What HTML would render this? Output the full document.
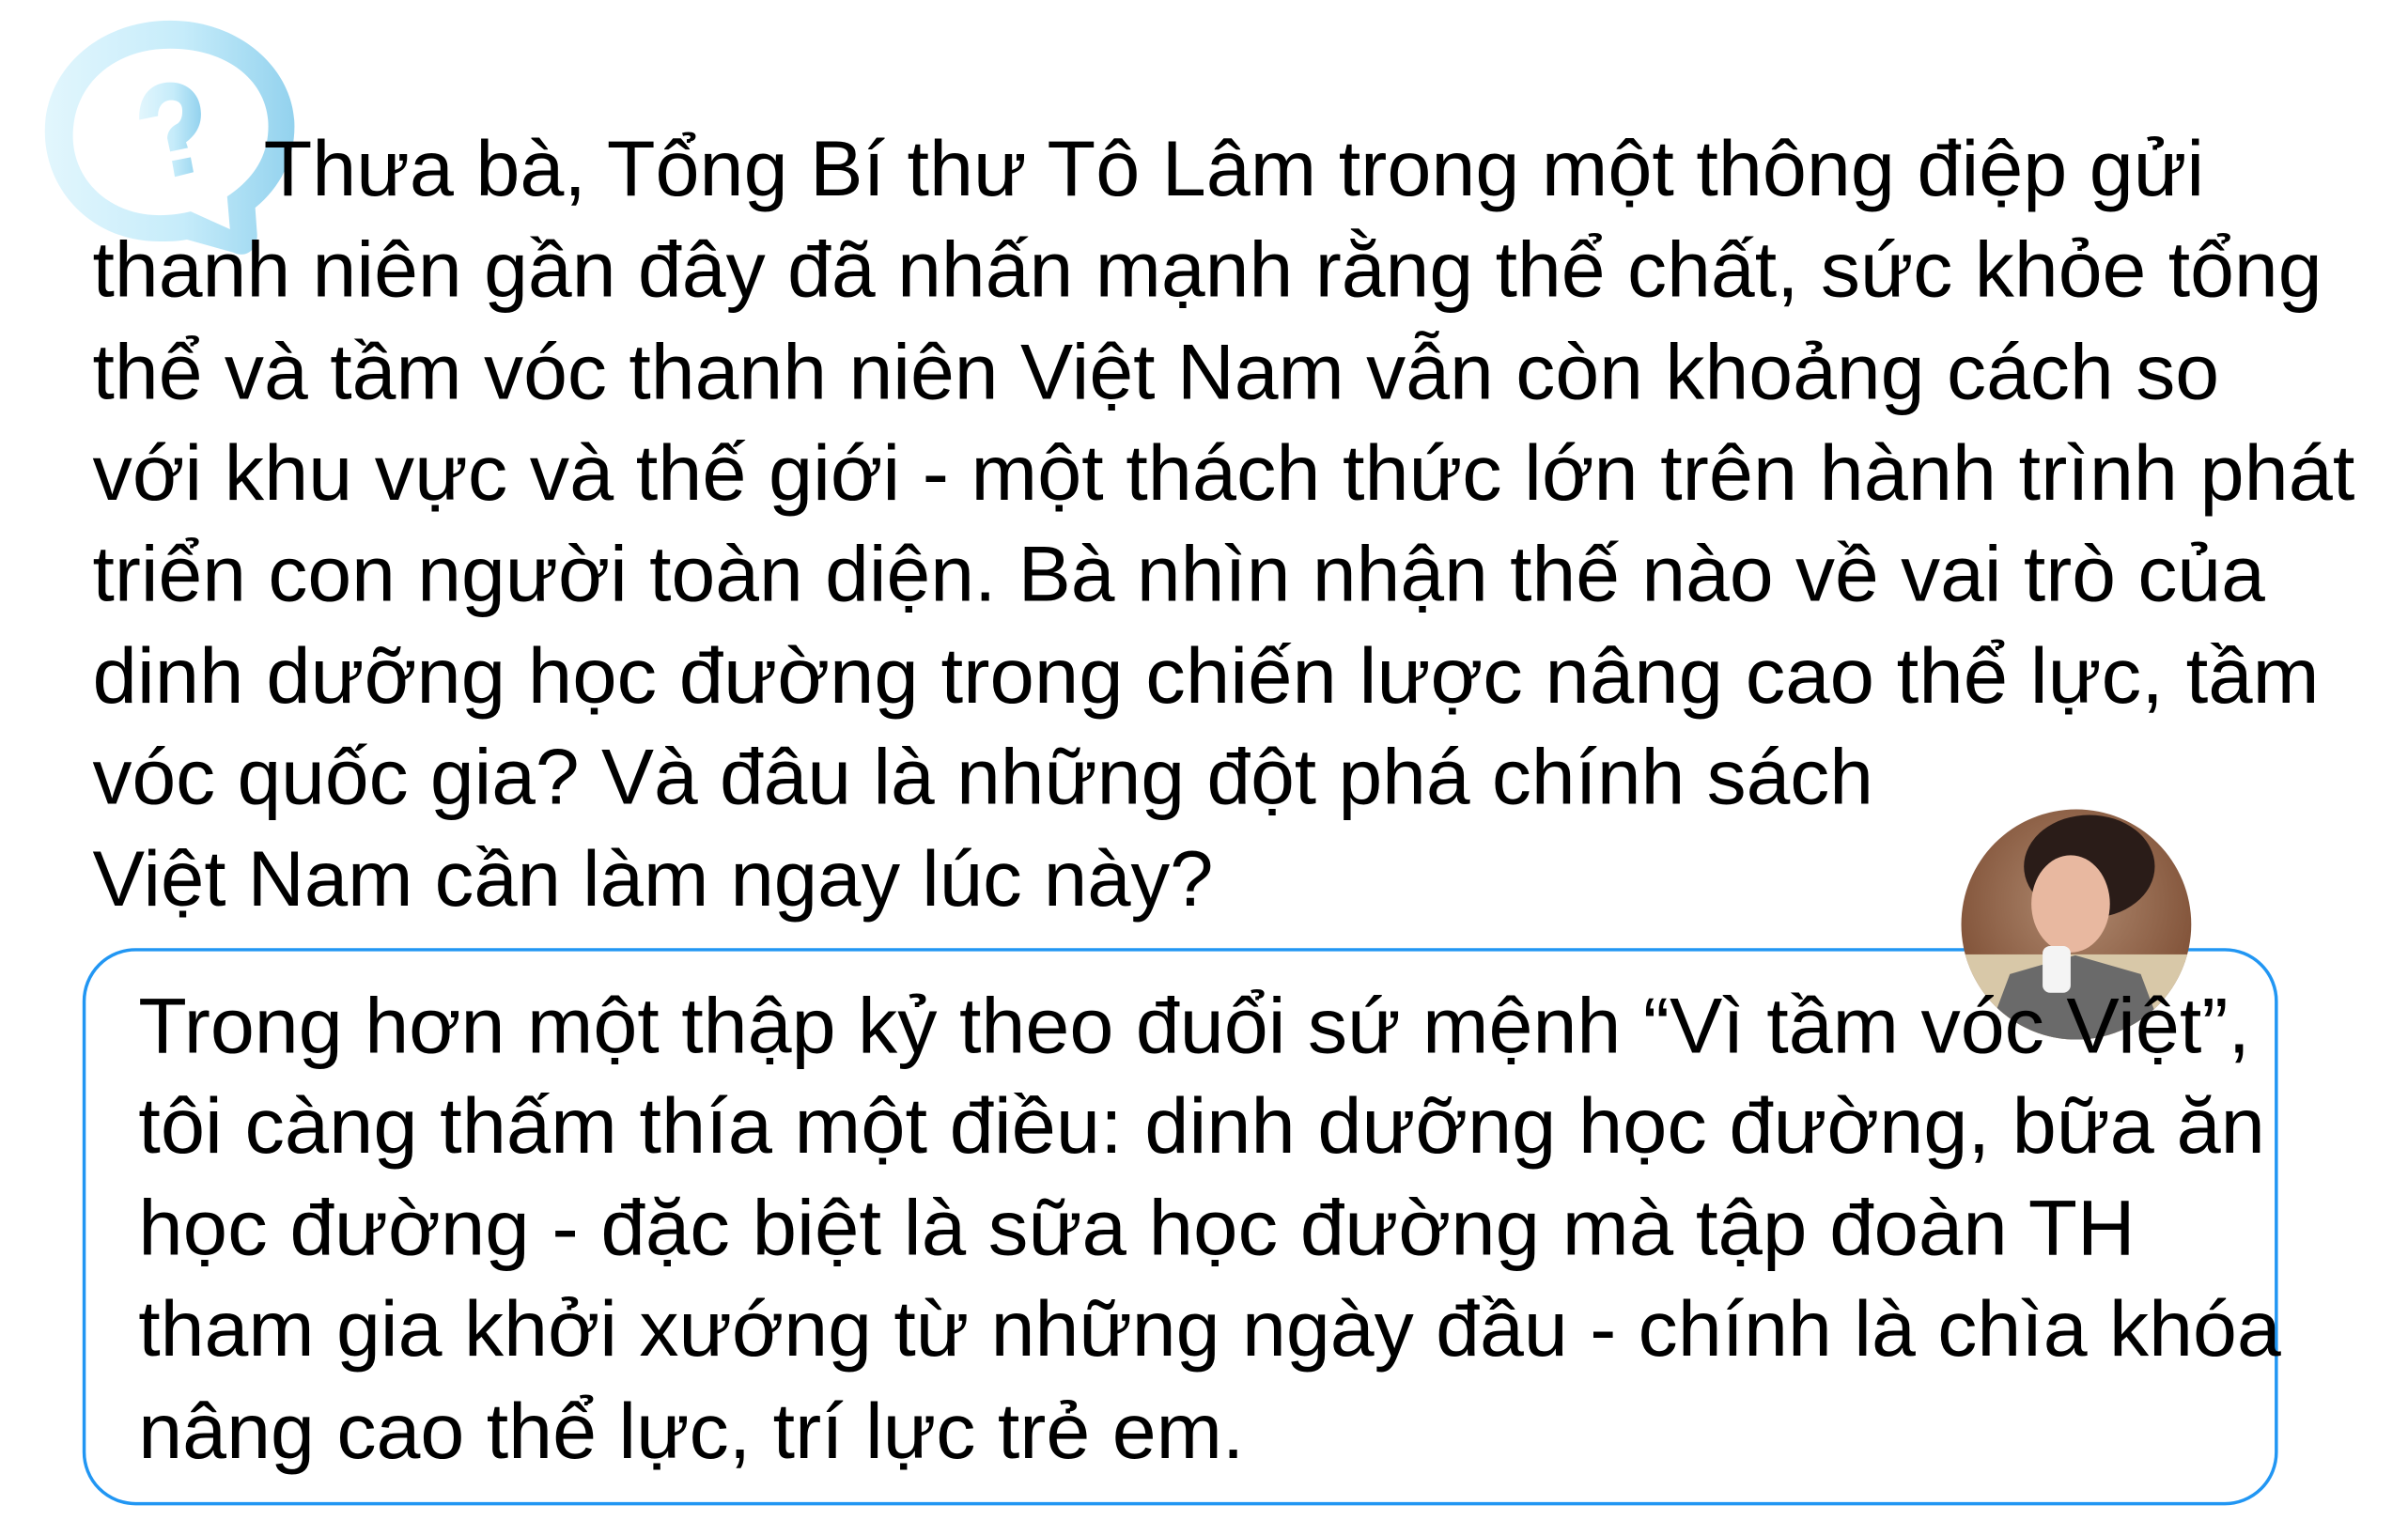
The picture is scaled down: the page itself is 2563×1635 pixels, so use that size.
<!DOCTYPE html>
<html><head><meta charset="utf-8"><style>
html,body{margin:0;padding:0;background:#fff;width:2563px;height:1635px;overflow:hidden}
svg{display:block}
text{font-family:"Liberation Sans",Arial,sans-serif;font-size:84px;fill:#000}
</style></head><body>
<svg width="2563" height="1635" viewBox="0 0 2563 1635" xmlns="http://www.w3.org/2000/svg">
<defs>
<linearGradient id="g" x1="0" y1="0" x2="1" y2="0">
<stop offset="0" stop-color="#e2f6fd"/><stop offset="0.55" stop-color="#c6ecfa"/><stop offset="1" stop-color="#93d2ee"/></linearGradient>
<radialGradient id="bg" cx="0.5" cy="0.4" r="0.6">
<stop offset="0" stop-color="#b08a70"/><stop offset="1" stop-color="#7a4a30"/></radialGradient>
<clipPath id="c"><circle cx="2221" cy="988" r="123"/></clipPath>
</defs>
<g transform="scale(0.995,0.996)">
<path fill-rule="evenodd" fill="url(#g)" d="M182,22 C258,22 315,75 315,135 C315,170 300,200 273,222 L275,250 C276,268 262,276 250,270 L200,256 C190,258 180,258 170,258 C100,258 48,205 48,140 C48,75 105,22 182,22 Z M182,52 C120,52 78,92 78,145 C78,195 120,230 170,230 C185,230 195,228 204,226 L246,245 L243,210 C270,192 287,168 287,135 C287,88 245,52 182,52 Z"/>
<path fill="url(#g)" d="M149,128 C148,102 162,88 182,88 C202,88 215,102 215,122 C215,137 207,146 199,152 L201,158 L182,162 L179,148 C179,140 184,135 190,132 C195,128 195,122 195,118 C195,110 190,107 183,107 C176,107 169,112 169,124 Z M184,172 L204,168 L207,184 L187,189 Z"/>
<rect x="90" y="1015" width="2345" height="592" rx="55" fill="none" stroke="#2196f3" stroke-width="3.5"/>
<g clip-path="url(#c)">
<rect x="2090" y="860" width="260" height="260" fill="url(#bg)"/>
<rect x="2090" y="1020" width="260" height="100" fill="#d8c8a8"/>
<ellipse cx="2235" cy="926" rx="70" ry="55" fill="#2a1c18"/>
<ellipse cx="2215" cy="966" rx="42" ry="52" fill="#e8b8a0"/>
<path d="M2120,1121 L2150,1041 L2220,1021 L2290,1041 L2320,1121 Z" fill="#6a6a6a"/>
<rect x="2185" y="1011" width="30" height="50" rx="8" fill="#f4f4f4"/>
</g>
<text x="282" y="209" textLength="2076" lengthAdjust="spacingAndGlyphs">Thưa bà, Tổng Bí thư Tô Lâm trong một thông điệp gửi</text>
<text x="99" y="317" textLength="2385" lengthAdjust="spacingAndGlyphs">thanh niên gần đây đã nhấn mạnh rằng thể chất, sức khỏe tổng</text>
<text x="99" y="426" textLength="2275" lengthAdjust="spacingAndGlyphs">thể và tầm vóc thanh niên Việt Nam vẫn còn khoảng cách so</text>
<text x="99" y="534" textLength="2420" lengthAdjust="spacingAndGlyphs">với khu vực và thế giới - một thách thức lớn trên hành trình phát</text>
<text x="99" y="642" textLength="2324" lengthAdjust="spacingAndGlyphs">triển con người toàn diện. Bà nhìn nhận thế nào về vai trò của</text>
<text x="99" y="751" textLength="2382" lengthAdjust="spacingAndGlyphs">dinh dưỡng học đường trong chiến lược nâng cao thể lực, tầm</text>
<text x="99" y="859" textLength="1905" lengthAdjust="spacingAndGlyphs">vóc quốc gia? Và đâu là những đột phá chính sách</text>
<text x="99" y="968" textLength="1199" lengthAdjust="spacingAndGlyphs">Việt Nam cần làm ngay lúc này?</text>
<text x="148" y="1125" textLength="2259" lengthAdjust="spacingAndGlyphs">Trong hơn một thập kỷ theo đuổi sứ mệnh “Vì tầm vóc Việt”,</text>
<text x="148" y="1232" textLength="2275" lengthAdjust="spacingAndGlyphs">tôi càng thấm thía một điều: dinh dưỡng học đường, bữa ăn</text>
<text x="148" y="1341" textLength="2136" lengthAdjust="spacingAndGlyphs">học đường - đặc biệt là sữa học đường mà tập đoàn TH</text>
<text x="148" y="1449" textLength="2292" lengthAdjust="spacingAndGlyphs">tham gia khởi xướng từ những ngày đầu - chính là chìa khóa</text>
<text x="148" y="1558" textLength="1183" lengthAdjust="spacingAndGlyphs">nâng cao thể lực, trí lực trẻ em.</text>
</g>
</svg>
</body></html>
